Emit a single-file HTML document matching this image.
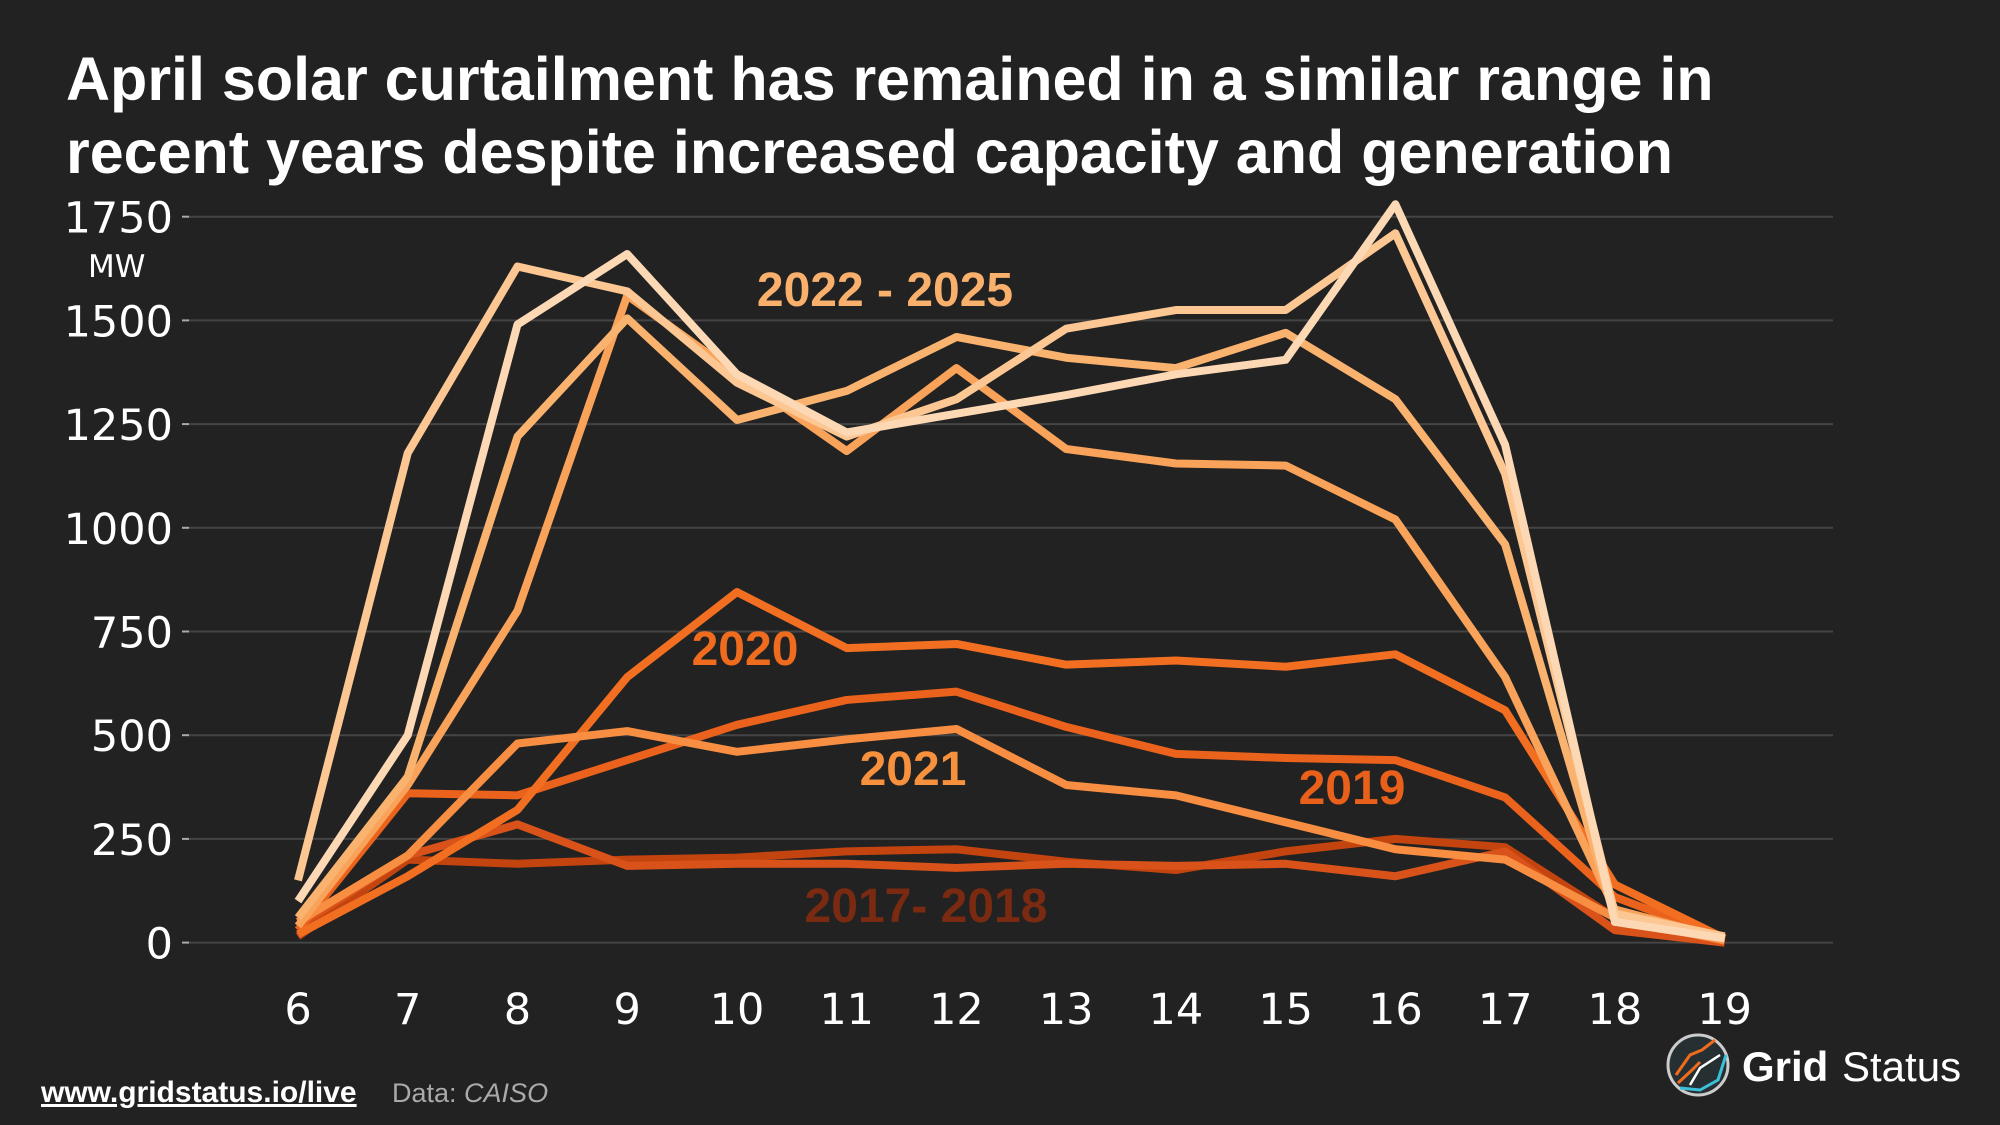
<!DOCTYPE html>
<html><head><meta charset="utf-8"><style>
html,body{margin:0;padding:0;background:#222222;}
svg{display:block;}
</style></head><body>
<svg width="2000" height="1125" viewBox="0 0 2000 1125" xmlns="http://www.w3.org/2000/svg">
<rect width="2000" height="1125" fill="#222222"/>
<text x="66" y="100" font-family="Liberation Sans, sans-serif" font-weight="bold" font-size="61" fill="#ffffff">April solar curtailment has remained in a similar range in</text>
<text x="66" y="173" font-family="Liberation Sans, sans-serif" font-weight="bold" font-size="61" fill="#ffffff">recent years despite increased capacity and generation</text>
<g id="grid"></g>
<g id="lines"></g>
<text x="88" y="277" font-family="DejaVu Sans, sans-serif" font-size="31" fill="#ffffff">MW</text>
<text x="885" y="306" text-anchor="middle" font-family="Liberation Sans, sans-serif" font-weight="bold" font-size="48" fill="#f8b06c">2022 - 2025</text>
<text x="745" y="665" text-anchor="middle" font-family="Liberation Sans, sans-serif" font-weight="bold" font-size="48" fill="#ef6b1e">2020</text>
<text x="913" y="785" text-anchor="middle" font-family="Liberation Sans, sans-serif" font-weight="bold" font-size="48" fill="#f7913e">2021</text>
<text x="1352" y="804" text-anchor="middle" font-family="Liberation Sans, sans-serif" font-weight="bold" font-size="48" fill="#e8601a">2019</text>
<text x="926" y="922" text-anchor="middle" font-family="Liberation Sans, sans-serif" font-weight="bold" font-size="48" fill="#7a2a10">2017- 2018</text>
<a><text x="41" y="1102" font-family="Liberation Sans, sans-serif" font-weight="bold" font-size="30" fill="#ffffff" text-decoration="underline">www.gridstatus.io/live</text></a>
<text x="392" y="1102" font-family="Liberation Sans, sans-serif" font-size="27" fill="#aaaaaa">Data: <tspan font-style="italic">CAISO</tspan></text>
<g>
<circle cx="1698" cy="1065" r="30" fill="#263033" stroke="#cccccc" stroke-width="3"/>
<path d="M1676 1075 L1690 1055 L1702 1050 L1715 1040" stroke="#f26b1d" stroke-width="3" fill="none"/>
<path d="M1678 1083 L1692 1070 L1700 1062" stroke="#f26b1d" stroke-width="3" fill="none"/>
<path d="M1690 1085 L1700 1068 L1720 1055" stroke="#ffffff" stroke-width="2.5" fill="none"/>
<path d="M1680 1088 L1700 1090 L1718 1080 L1726 1055" stroke="#3cc0d8" stroke-width="3" fill="none"/>
<text x="1742" y="1081" font-family="Liberation Sans, sans-serif" font-weight="bold" font-size="42" fill="#ffffff">Grid</text>
<text x="1842" y="1081" font-family="Liberation Sans, sans-serif" font-size="42" fill="#ffffff">Status</text>
</g>
</svg>
<script>
const hours = [6,7,8,9,10,11,12,13,14,15,16,17,18,19];
const yTicks = [0,250,500,750,1000,1250,1500,1750];
const years = ['2017','2018','2019','2020','2021','2022','2023','2024','2025'];
const s2017 = [15,200,190,200,205,220,225,195,175,220,250,230,60,0];
const s2018 = [40,210,285,185,190,190,180,190,185,190,160,220,30,0];
const s2019 = [30,360,355,440,525,585,605,520,455,445,440,350,110,10];
const s2020 = [20,160,320,640,845,710,720,670,680,665,695,560,140,10];
const s2021 = [50,210,480,510,460,490,515,380,355,290,225,200,60,5];
const s2022 = [40,380,800,1560,1370,1185,1385,1190,1155,1150,1020,640,80,10];
const s2023 = [60,400,1220,1505,1260,1330,1460,1410,1385,1470,1310,960,60,10];
const s2024 = [150,1180,1630,1570,1350,1220,1310,1480,1525,1525,1710,1130,70,15];
const s2025 = [100,500,1490,1660,1370,1230,1275,1320,1370,1405,1780,1200,50,10];
const seriesList = [s2017,s2018,s2019,s2020,s2021,s2022,s2023,s2024,s2025];
const colors = ['#c4440f','#d9521a','#ea621c','#f26f22','#f88e42','#f9a259','#fab26f','#fcc793','#fdd8b4'];
const NS='http://www.w3.org/2000/svg';
const xS = h => 298 + (h-6)*(1724.6-298)/13;
const yS = v => 942.6 - v*(103.7/250);
const grid=document.getElementById('grid');
yTicks.forEach(t=>{
  const y=yS(t);
  const l=document.createElementNS(NS,'line');
  l.setAttribute('x1',189);l.setAttribute('x2',1833);l.setAttribute('y1',y);l.setAttribute('y2',y);
  l.setAttribute('stroke','#444444');l.setAttribute('stroke-width','2');
  
  
  grid.appendChild(l);
  const tk=document.createElementNS(NS,'line');
  tk.setAttribute('x1',182);tk.setAttribute('x2',189);tk.setAttribute('y1',y);tk.setAttribute('y2',y);
  tk.setAttribute('stroke','#aaaaaa');tk.setAttribute('stroke-width','2');
  
  
  grid.appendChild(tk);
  const tx=document.createElementNS(NS,'text');
  tx.setAttribute('x',173);tx.setAttribute('y',y+16);tx.setAttribute('text-anchor','end');
  tx.setAttribute('font-family','DejaVu Sans, sans-serif');tx.setAttribute('font-size','43');tx.setAttribute('fill','#ffffff');
  tx.textContent=t;
  
  
  grid.appendChild(tx);
});
hours.forEach(h=>{
  const tx=document.createElementNS(NS,'text');
  tx.setAttribute('x',xS(h));tx.setAttribute('y',1024);tx.setAttribute('text-anchor','middle');
  tx.setAttribute('font-family','DejaVu Sans, sans-serif');tx.setAttribute('font-size','43');tx.setAttribute('fill','#ffffff');
  tx.textContent=h;
  
  
  grid.appendChild(tx);
});
const lines=document.getElementById('lines');
seriesList.forEach((s,i)=>{
  const p=document.createElementNS(NS,'polyline');
  p.setAttribute('points',s.map((v,j)=>xS(hours[j])+','+yS(v)).join(' '));
  p.setAttribute('fill','none');p.setAttribute('stroke',colors[i]);p.setAttribute('stroke-width','8');
  p.setAttribute('stroke-linejoin','round');
  
  
  lines.appendChild(p);
});
</script>
</body></html>
